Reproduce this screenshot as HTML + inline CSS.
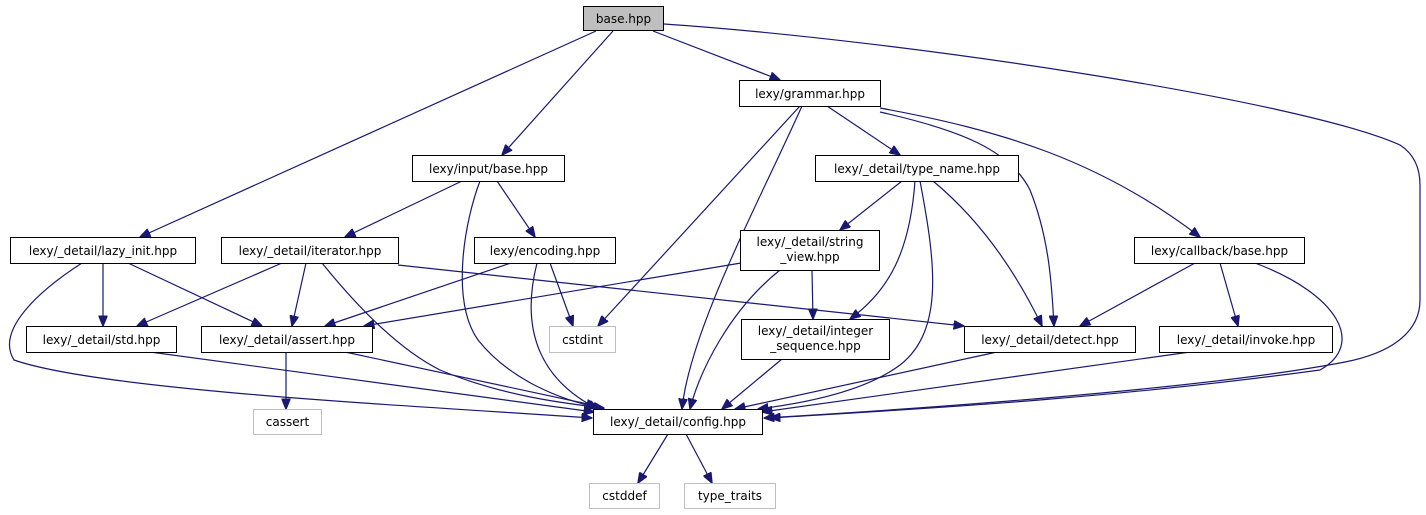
<!DOCTYPE html>
<html><head><meta charset="utf-8"><style>
html,body{margin:0;padding:0;background:#fff;}
svg{display:block;}
text{font-family:"DejaVu Sans","Liberation Sans",sans-serif;font-size:12px;fill:#000;}
.e{fill:none;stroke:#191970;stroke-width:1.2;}
</style></head><body>
<svg width="1426" height="515" viewBox="0 0 1426 515" xmlns="http://www.w3.org/2000/svg">
<defs><marker id="a" markerWidth="11" markerHeight="9" refX="10.5" refY="4.5" orient="auto" markerUnits="userSpaceOnUse"><path d="M0,0 L11,4.5 L0,9 Z" fill="#191970" stroke="#191970"/></marker></defs>
<g marker-end="url(#a)">
<path class="e" d="M596,31 L140,237"/>
<path class="e" d="M613,31 L502,155"/>
<path class="e" d="M653,31 L780,80"/>
<path class="e" d="M664,24 C900,40 1300,100 1400,145 Q1420,158 1420,185 L1420,300 C1420,330 1395,352 1345,362 C1200,390 900,410 764,418"/>
<path class="e" d="M462,181 L345,237"/>
<path class="e" d="M497,181 L535,237"/>
<path class="e" d="M480,181 C465,220 450,300 478,340 C510,380 560,400 604,409"/>
<path class="e" d="M800,106 L598,326"/>
<path class="e" d="M802,106 C760,200 690,330 682,409"/>
<path class="e" d="M827,106 L900,155"/>
<path class="e" d="M880,112 C960,130 1010,150 1030,190 C1050,240 1052,290 1054,326"/>
<path class="e" d="M880,108 C1000,130 1100,160 1200,237"/>
<path class="e" d="M902,181 L840,230"/>
<path class="e" d="M915,181 C910,250 890,290 850,319"/>
<path class="e" d="M920,181 C935,260 945,330 900,365 C860,395 790,405 758,409"/>
<path class="e" d="M933,181 C980,220 1015,270 1042,326"/>
<path class="e" d="M741,263 L364,326"/>
<path class="e" d="M812,270 L813,319"/>
<path class="e" d="M780,270 C730,310 700,370 690,409"/>
<path class="e" d="M1195,263 L1080,326"/>
<path class="e" d="M1220,263 L1238,326"/>
<path class="e" d="M1255,263 C1340,295 1365,345 1320,370 C1100,400 900,410 770,418"/>
<path class="e" d="M103,263 L103,326"/>
<path class="e" d="M128,263 L262,326"/>
<path class="e" d="M82,263 C40,290 -5,330 14,360 C100,390 400,405 592,418"/>
<path class="e" d="M282,263 L137,326"/>
<path class="e" d="M306,263 L292,326"/>
<path class="e" d="M322,263 C360,310 400,350 440,370 C500,395 560,403 604,408"/>
<path class="e" d="M398,265 L964,326"/>
<path class="e" d="M511,263 L325,326"/>
<path class="e" d="M550,263 L573,326"/>
<path class="e" d="M537,263 C520,330 540,380 598,409"/>
<path class="e" d="M150,352 L594,412"/>
<path class="e" d="M345,352 L597,406"/>
<path class="e" d="M286,352 L286,409"/>
<path class="e" d="M782,359 L722,409"/>
<path class="e" d="M997,352 L735,409"/>
<path class="e" d="M1190,352 L762,412"/>
<path class="e" d="M668,434 L638,483"/>
<path class="e" d="M686,434 L712,483"/>
</g>
<g stroke="#000" stroke-width="1" fill="#fff">
<rect x="583.5" y="6.5" width="80" height="24" fill="#bfbfbf"/>
<rect x="739.5" y="80.5" width="141" height="26"/>
<rect x="412.5" y="155.5" width="152" height="26"/>
<rect x="815.5" y="155.5" width="203" height="26"/>
<rect x="10.5" y="237.5" width="185" height="26"/>
<rect x="221.5" y="237.5" width="177" height="26"/>
<rect x="474.5" y="237.5" width="141" height="26"/>
<rect x="740.5" y="230.5" width="139" height="40"/>
<rect x="1134.5" y="237.5" width="170" height="26"/>
<rect x="26.5" y="326.5" width="150" height="26"/>
<rect x="201.5" y="326.5" width="171" height="26"/>
<rect x="549.5" y="326.5" width="66" height="26" stroke="#bfbfbf"/>
<rect x="741.5" y="319.5" width="148" height="40"/>
<rect x="964.5" y="326.5" width="171" height="26"/>
<rect x="1159.5" y="326.5" width="173" height="26"/>
<rect x="253.5" y="409.5" width="68" height="25" stroke="#bfbfbf"/>
<rect x="593.5" y="409.5" width="169" height="25"/>
<rect x="589.5" y="483.5" width="70" height="25" stroke="#bfbfbf"/>
<rect x="684.5" y="483.5" width="91" height="25" stroke="#bfbfbf"/>
</g>
<g text-anchor="middle">
<text x="623.5" y="23">base.hpp</text>
<text x="810" y="98">lexy/grammar.hpp</text>
<text x="488.5" y="173">lexy/input/base.hpp</text>
<text x="917" y="173">lexy/_detail/type_name.hpp</text>
<text x="103" y="255">lexy/_detail/lazy_init.hpp</text>
<text x="310" y="255">lexy/_detail/iterator.hpp</text>
<text x="545" y="255">lexy/encoding.hpp</text>
<text x="810" y="246">lexy/_detail/string</text>
<text x="810" y="261">_view.hpp</text>
<text x="1219.5" y="255">lexy/callback/base.hpp</text>
<text x="101.5" y="344">lexy/_detail/std.hpp</text>
<text x="287" y="344">lexy/_detail/assert.hpp</text>
<text x="582.5" y="344">cstdint</text>
<text x="815.5" y="335">lexy/_detail/integer</text>
<text x="815.5" y="350">_sequence.hpp</text>
<text x="1050" y="344">lexy/_detail/detect.hpp</text>
<text x="1246" y="344">lexy/_detail/invoke.hpp</text>
<text x="287.5" y="426">cassert</text>
<text x="678" y="426">lexy/_detail/config.hpp</text>
<text x="624.5" y="500">cstddef</text>
<text x="730" y="500">type_traits</text>
</g>
</svg>
</body></html>
